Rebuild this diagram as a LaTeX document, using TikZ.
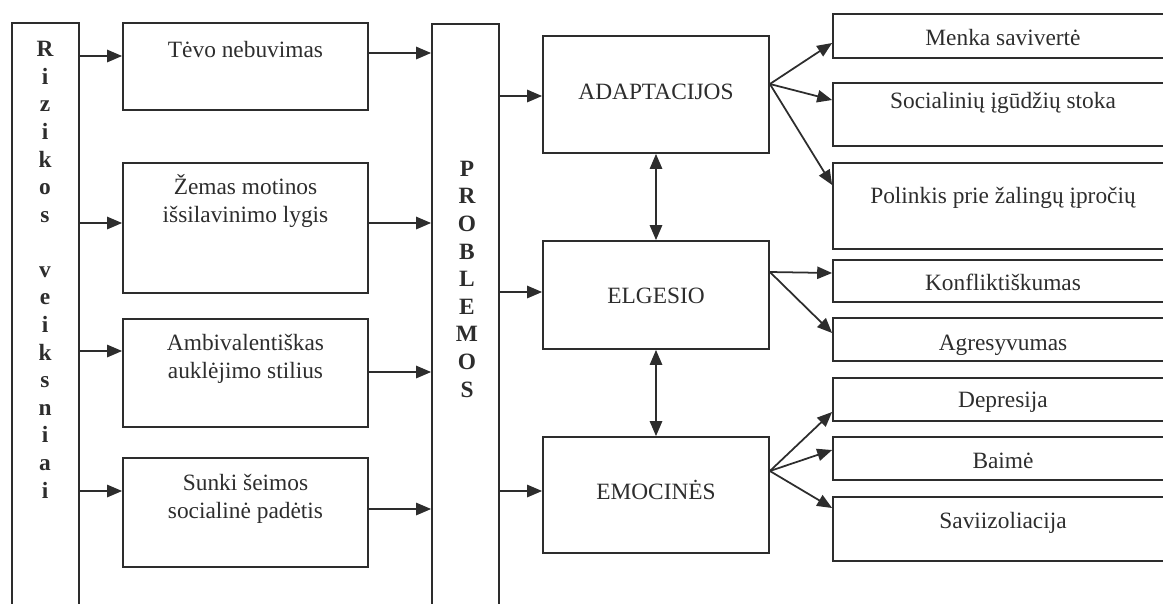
\documentclass[tikz,border=0pt]{standalone}
\usepackage{fontspec}
\setmainfont{Liberation Serif}
\usepackage{tikz}
\usetikzlibrary{arrows.meta}
\newlength{\pxu}
\setlength{\pxu}{0.02cm}
\definecolor{ink}{RGB}{45,45,45}
\tikzset{
  box/.style 2 args={draw=ink, line width=1pt, rectangle, inner sep=0pt,
    minimum width=#1\pxu, minimum height=#2\pxu},
  txt/.style={text=ink, align=center, anchor=base, inner sep=0pt,
    font=\fontsize{13.3}{15.9}\selectfont},
  vtxt/.style={text=ink, align=center, anchor=base, inner sep=0pt,
    font=\fontsize{13.3}{15.7}\selectfont\bfseries},
  arr/.style={draw=ink, line width=1pt, -{Triangle[length=8.5pt,width=7pt]}},
  darr/.style={draw=ink, line width=1pt,
    {Triangle[length=8.5pt,width=7pt]}-{Triangle[length=8.5pt,width=7pt]}}
}
\begin{document}
\begin{tikzpicture}[x=0.02cm, y=-0.02cm]
\useasboundingbox (0,0) rectangle (1163,603);

\node[box={67}{602}] (riz) at (45.5,324) {};
\node[vtxt] (rizt) at (45,498) {R\\i\\z\\i\\k\\o\\s\\\mbox{}\\v\\e\\i\\k\\s\\n\\i\\a\\i};

\node[box={245}{87}] (tevo) at (245.5,66.5) {};
\node[box={245}{130}] (zema) at (245.5,228) {};
\node[box={245}{108}] (ambi) at (245.5,373) {};
\node[box={245}{109}] (sunki) at (245.5,512.5) {};
\node[txt] (tevot) at (245.5,57) {Tėvo nebuvimas};
\node[txt] (zemat) at (245.5,222) {Žemas motinos\\išsilavinimo lygis};
\node[txt] (ambit) at (245.5,378) {Ambivalentiškas\\auklėjimo stilius};
\node[txt] (sunkit) at (245.5,518) {Sunki šeimos\\socialinė padėtis};

\node[box={67}{601}] (prob) at (465.5,324.5) {};
\node[vtxt] (probt) at (467,397) {P\\R\\O\\B\\L\\E\\M\\O\\S};

\node[box={226}{117}] (adapt) at (656,94.5) {};
\node[box={226}{108}] (elg) at (656,295) {};
\node[box={226}{116}] (emo) at (656,495) {};
\node[txt] (adaptt) at (656,99) {ADAPTACIJOS};
\node[txt] (elgt) at (656,303) {ELGESIO};
\node[txt] (emot) at (656,499) {EMOCINĖS};

\node[box={340}{44}] (menka) at (1003,36) {};
\node[box={340}{63}] (soc) at (1003,114.5) {};
\node[box={340}{86}] (pol) at (1003,206) {};
\node[box={340}{42}] (konf) at (1003,281) {};
\node[box={340}{43}] (agr) at (1003,339.5) {};
\node[box={340}{43}] (depr) at (1003,399.5) {};
\node[box={340}{43}] (baim) at (1003,458.5) {};
\node[box={340}{64}] (savi) at (1003,529) {};
\node[txt] (menkat) at (1003,45) {Menka savivertė};
\node[txt] (soct) at (1003,108) {Socialinių įgūdžių stoka};
\node[txt] (polt) at (1003,203) {Polinkis prie žalingų įpročių};
\node[txt] (konft) at (1003,290) {Konfliktiškumas};
\node[txt] (agrt) at (1003,350) {Agresyvumas};
\node[txt] (deprt) at (1003,407) {Depresija};
\node[txt] (baimt) at (1003,468) {Baimė};
\node[txt] (savit) at (1003,528) {Saviizoliacija};

\draw[arr] (riz.east |- 0,56) -- (tevo.west |- 0,56);
\draw[arr] (riz.east |- 0,223) -- (zema.west |- 0,223);
\draw[arr] (riz.east |- 0,351) -- (ambi.west |- 0,351);
\draw[arr] (riz.east |- 0,491) -- (sunki.west |- 0,491);

\draw[arr] (tevo.east |- 0,53) -- (prob.west |- 0,53);
\draw[arr] (zema.east |- 0,223) -- (prob.west |- 0,223);
\draw[arr] (ambi.east |- 0,372) -- (prob.west |- 0,372);
\draw[arr] (sunki.east |- 0,509) -- (prob.west |- 0,509);

\draw[arr] (prob.east |- 0,96) -- (adapt.west |- 0,96);
\draw[arr] (prob.east |- 0,292) -- (elg.west |- 0,292);
\draw[arr] (prob.east |- 0,491) -- (emo.west |- 0,491);

\draw[darr] (adapt.south) -- (elg.north);
\draw[darr] (elg.south) -- (emo.north);

\draw[arr] (adapt.east |- 0,84) -- (menka.west |- 0,43);
\draw[arr] (adapt.east |- 0,84) -- (soc.west |- 0,100);
\draw[arr] (adapt.east |- 0,84) -- (pol.west |- 0,185);

\draw[arr] (elg.east |- 0,272) -- (konf.west |- 0,273);
\draw[arr] (elg.east |- 0,272) -- (agr.west |- 0,333);

\draw[arr] (emo.east |- 0,471) -- (depr.west |- 0,412);
\draw[arr] (emo.east |- 0,471) -- (baim.west |- 0,450);
\draw[arr] (emo.east |- 0,471) -- (savi.west |- 0,508);

\end{tikzpicture}
\end{document}
